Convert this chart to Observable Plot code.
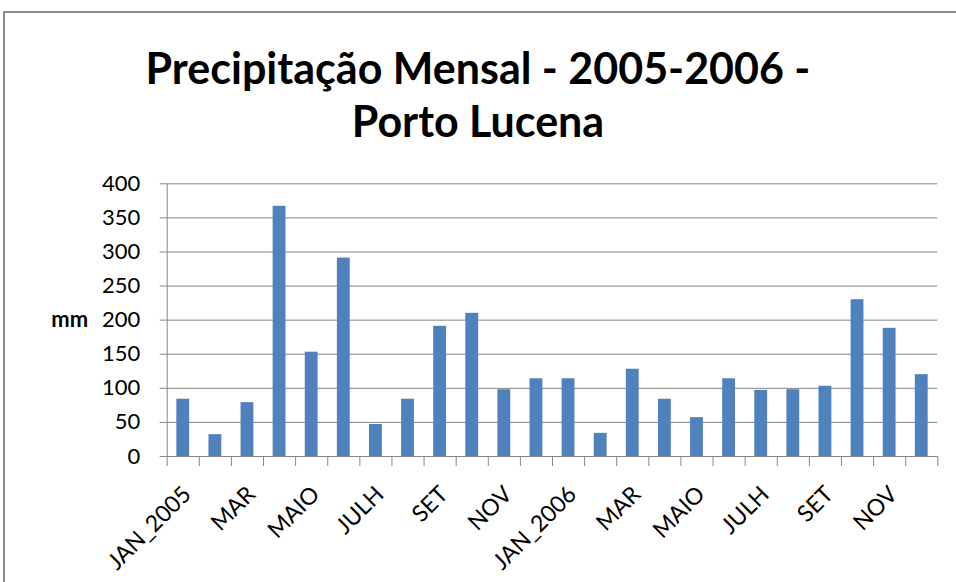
<!DOCTYPE html>
<html><head><meta charset="utf-8">
<script src="https://cdn.jsdelivr.net/npm/d3@7"></script>
<script src="https://cdn.jsdelivr.net/npm/@observablehq/plot@0.6"></script>
<style>
html,body{margin:0;padding:0;background:#fff;}
#wrap{position:relative;width:956px;height:582px;overflow:hidden;font-family:Lato,"Open Sans",sans-serif;background:#fff;}
#frame{position:absolute;left:3px;top:11px;width:1000px;height:1000px;border-left:2px solid #8c8c8c;border-top:2px solid #8c8c8c;}
#title{position:absolute;left:0;top:41px;width:956px;text-align:center;font-weight:bold;font-size:43px;line-height:53px;color:#000;}
#chart{position:absolute;left:0;top:170px;}
</style></head><body>
<div id="wrap"><div id="frame"></div><div id="title">Precipitação Mensal - 2005-2006 -<br>Porto Lucena</div><div id="chart"></div></div>
<script>
const months = ["JAN_2005","FEV","MAR","ABR","MAIO","JUN","JULH","AGO","SET","OUT","NOV","DEZ",
                "JAN_2006","FEV","MAR","ABR","MAIO","JUN","JULH","AGO","SET","OUT","NOV","DEZ"];
const values = [84, 32, 79, 367, 153, 291, 47, 84, 191, 210, 98, 114,
                114, 34, 128, 84, 57, 114, 97, 98, 103, 230, 188, 120];
const tickLabels = ["JAN_2005","MAR","MAIO","JULH","SET","NOV","JAN_2006","MAR","MAIO","JULH","SET","NOV"];
const yTicks = [0, 50, 100, 150, 200, 250, 300, 350, 400];
const yLabel = "mm";

const data = values.map((v, i) => ({i, month: months[i], value: v}));
const labelData = tickLabels.map((t, k) => ({pos: k * 2 + 0.5, label: t}));
const boundaries = d3.range(months.length + 1);
const grey = "#868686";

const chart = Plot.plot({
  width: 956,
  height: 412,
  marginTop: 13.3,
  marginBottom: 126,
  marginLeft: 166.7,
  marginRight: 18.7,
  style: {fontFamily: "Lato, 'Open Sans', sans-serif", color: "#000", background: "transparent", overflow: "visible"},
  x: {type: "linear", domain: [0, months.length], axis: null},
  y: {domain: [0, 400], axis: null},
  marks: [
    Plot.gridY(yTicks, {stroke: grey, strokeOpacity: 1, strokeWidth: 1}),
    Plot.rectY(data, {x1: d => d.i + 0.3, x2: d => d.i + 0.7, y: "value", fill: "#4F81BD"}),
    Plot.ruleX([0], {stroke: grey, strokeWidth: 1}),
    Plot.ruleY([0], {stroke: grey, strokeWidth: 1}),
    Plot.axisY(yTicks, {label: null, tickSize: 7, tickPadding: 20, stroke: grey, fontSize: 22, fill: "#000", tickFormat: d => String(d)}),
    Plot.axisX(boundaries, {label: null, tickSize: 10, stroke: grey, tickFormat: () => ""}),
    Plot.text(labelData, {x: "pos", y: () => 0, text: "label", rotate: -45, textAnchor: "end", dx: 4, dy: 34, fontSize: 23, fill: "#000"}),
    Plot.text([yLabel], {frameAnchor: "left", dx: -79, textAnchor: "end", fontSize: 22, fontWeight: "bold", fill: "#000"})
  ]
});
document.getElementById("chart").appendChild(chart);
</script>
</body></html>
